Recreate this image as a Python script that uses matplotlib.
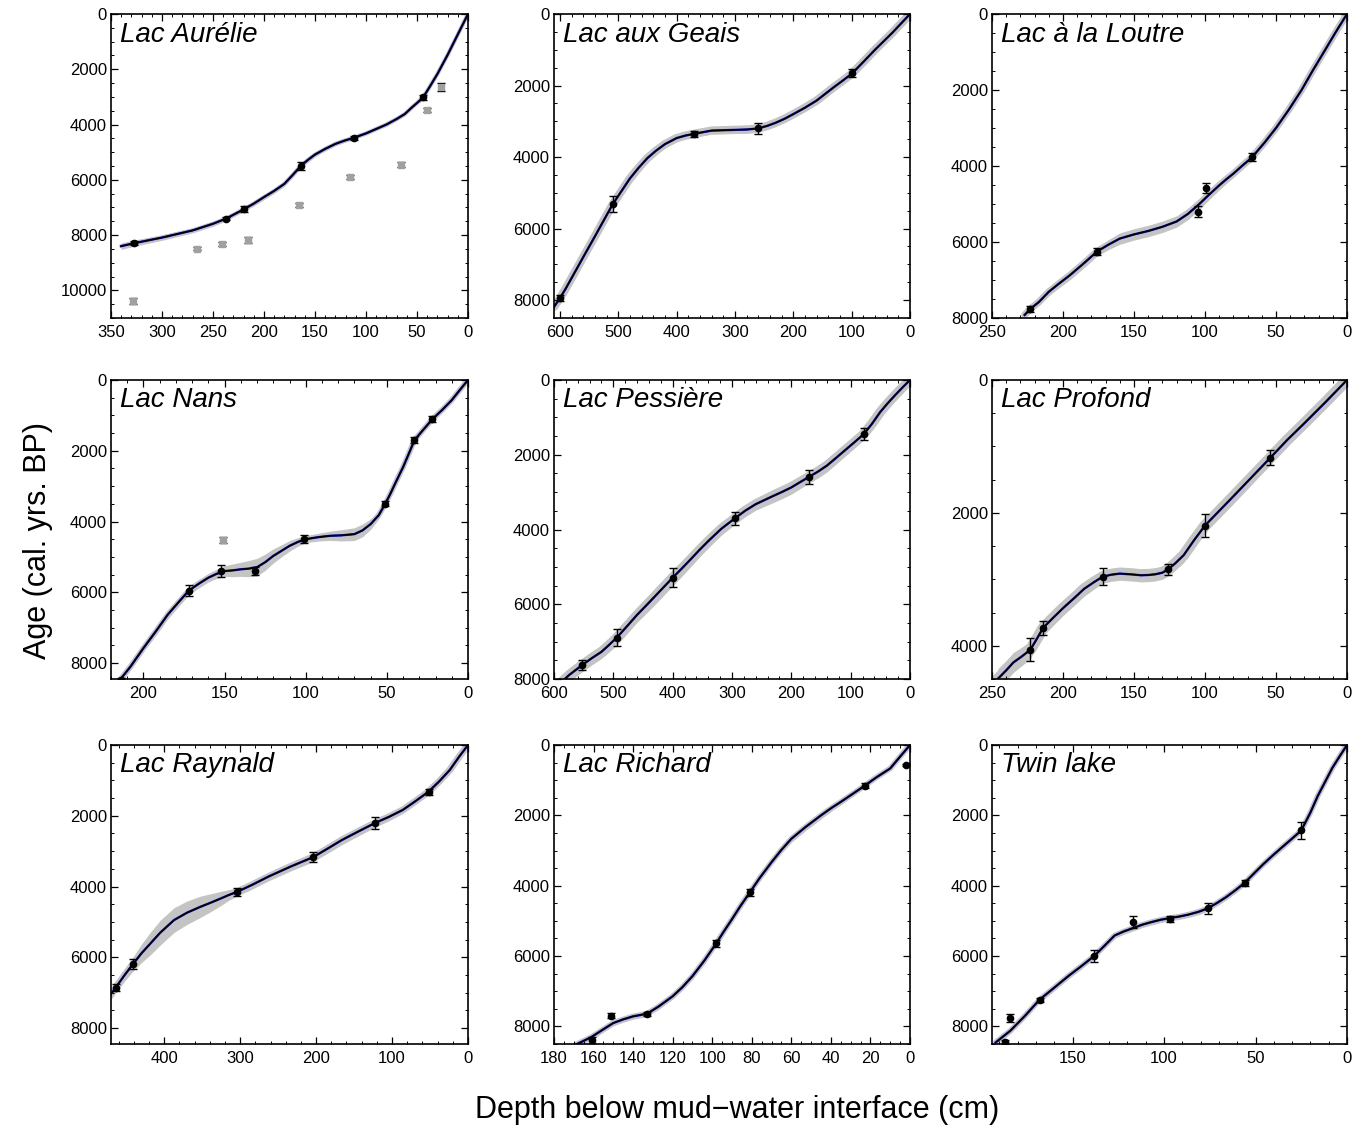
import matplotlib
matplotlib.use("Agg")
import matplotlib.pyplot as plt
from matplotlib.ticker import MultipleLocator

plt.rcParams["font.family"] = ["Liberation Sans", "DejaVu Sans"]

# ---- Lac Aurélie
aurelie_curve_depth = [340, 327, 300, 270, 250, 237, 220, 210, 200, 190, 180, 172, 164, 157, 150, 140,
                       130, 121, 112, 100, 90, 80, 70, 62, 55, 50, 44, 37, 30, 20, 10, 0]
aurelie_curve_age = [8400, 8290, 8090, 7830, 7590, 7400, 7070, 6860, 6625, 6400, 6145, 5830, 5500, 5280, 5086, 4880,
                     4700, 4580, 4480, 4320, 4160, 4000, 3800, 3620, 3380, 3220, 3020, 2600, 2170, 1480, 740, 0]
aurelie_band = [120, 110, 100, 90, 90, 80, 80, 85, 90, 90, 90, 90, 90, 85, 80, 75,
                70, 65, 60, 60, 60, 60, 60, 60, 60, 60, 60, 55, 50, 40, 20, 0]
aurelie_depth = [327, 237, 220, 164, 112, 44]
aurelie_age = [8290, 7400, 7070, 5500, 4480, 3020]
aurelie_err = [80, 60, 110, 140, 80, 90]
aurelie_out_depth = [328, 266, 241, 216, 166, 116, 66, 40, 26]
aurelie_out_age = [10400, 8490, 8330, 8190, 6910, 5890, 5460, 3470, 2630]
aurelie_out_err = [110, 50, 70, 110, 60, 70, 90, 60, 140]

# ---- Lac aux Geais
geais_curve_depth = [610, 600, 590, 560, 540, 520, 509, 480, 465, 450, 435, 420, 400, 385, 370, 340, 320, 300,
                     280, 261, 245, 230, 215, 200, 180, 160, 145, 130, 115, 99, 80, 60, 45, 30, 15, 0]
geais_curve_age = [8190, 7950, 7680, 6800, 6220, 5630, 5310, 4600, 4300, 4030, 3820, 3640, 3470, 3400, 3350, 3260, 3250, 3240,
                   3230, 3200, 3130, 3040, 2930, 2800, 2620, 2420, 2230, 2040, 1860, 1660, 1340, 1000, 760, 520, 260, 0]
geais_band = [100, 100, 100, 120, 140, 150, 150, 150, 140, 120, 110, 100, 100, 90, 90, 90, 95, 100,
              105, 110, 105, 100, 100, 100, 100, 100, 95, 90, 85, 80, 70, 60, 50, 40, 25, 0]
geais_depth = [600, 509, 370, 261, 99]
geais_age = [7950, 5310, 3350, 3200, 1660]
geais_err = [80, 220, 90, 160, 110]

# ---- Lac à la Loutre
loutre_curve_depth = [227, 223, 217, 210, 203, 195, 185, 176, 168, 160, 150, 140, 130, 120, 112,
                      104, 97, 90, 85, 80, 74, 67, 58, 50, 41, 32, 24, 15, 8, 0]
loutre_curve_age = [7920, 7760, 7580, 7310, 7100, 6870, 6550, 6250, 6070, 5910, 5800, 5710, 5600, 5460, 5260,
                    5000, 4750, 4510, 4350, 4200, 4000, 3777, 3380, 3000, 2520, 2000, 1480, 920, 480, 0]
loutre_band = [80, 80, 90, 100, 110, 120, 120, 120, 130, 150, 150, 150, 150, 150, 150,
               150, 130, 120, 110, 100, 95, 90, 90, 90, 85, 80, 70, 60, 40, 0]
loutre_depth = [223, 176, 105, 99, 67]
loutre_age = [7760, 6250, 5200, 4580, 3770]
loutre_err = [80, 100, 140, 130, 110]

# ---- Lac Nans
nans_curve_depth = [217, 208, 200, 192, 185, 178, 172, 166, 160, 155, 150, 145, 140, 135, 130, 125, 120, 115, 110, 105,
                    100, 92, 85, 78, 70, 65, 60, 55, 51, 48, 45, 42, 40, 36, 33, 28, 22, 16, 10, 5, 0]
nans_curve_age = [8620, 8100, 7576, 7080, 6629, 6260, 5950, 5760, 5587, 5480, 5400, 5380, 5350, 5330, 5290, 5150, 4972, 4830, 4688, 4580,
                  4498, 4440, 4403, 4390, 4356, 4250, 4072, 3820, 3500, 3230, 2936, 2650, 2462, 2030, 1700, 1430, 1110, 850, 568, 280, 0]
nans_band = [100, 100, 100, 110, 120, 120, 120, 120, 120, 130, 150, 180, 200, 230, 250, 230, 200, 170, 150, 120,
             100, 110, 130, 160, 180, 180, 150, 100, 80, 80, 80, 75, 70, 65, 60, 60, 60, 50, 40, 20, 0]
nans_depth = [214, 172, 152, 131, 101, 51, 33, 22]
nans_age = [8470, 5950, 5400, 5400, 4500, 3500, 1700, 1110]
nans_err = [60, 150, 160, 120, 110, 70, 80, 80]
nans_out_depth = [151]
nans_out_age = [4530]
nans_out_err = [80]

# ---- Lac Pessière
pessiere_curve_depth = [595, 575, 552, 537, 520, 508, 494, 477, 460, 445, 430, 415, 400, 385, 370, 355, 340, 318, 295, 278,
                        260, 245, 230, 215, 200, 186, 171, 155, 140, 125, 110, 94, 78, 64, 50, 38, 25, 12, 0]
pessiere_curve_age = [8200, 7900, 7620, 7450, 7273, 7100, 6890, 6590, 6284, 6040, 5791, 5540, 5290, 5050, 4803, 4550, 4310, 3980, 3700, 3500,
                      3322, 3210, 3098, 2990, 2874, 2740, 2600, 2450, 2290, 2090, 1886, 1670, 1450, 1170, 853, 630, 404, 190, 0]
pessiere_band = [200, 190, 180, 180, 180, 190, 200, 200, 200, 210, 220, 220, 220, 210, 200, 190, 180, 170, 160, 160,
                 160, 170, 180, 180, 180, 175, 170, 170, 170, 165, 160, 155, 150, 135, 120, 100, 80, 50, 0]
pessiere_depth = [552, 494, 400, 295, 171, 78]
pessiere_age = [7620, 6890, 5290, 3700, 2600, 1450]
pessiere_err = [130, 230, 260, 170, 190, 160]

# ---- Lac Profond
profond_curve_depth = [246, 240, 235, 229, 223, 218, 214, 207, 200, 192, 185, 178, 172, 166, 160, 152, 145,
                       140, 135, 130, 126, 121, 115, 108, 100, 90, 80, 67, 54, 42, 30, 15, 0]
profond_curve_age = [4500, 4370, 4252, 4160, 4060, 3880, 3730, 3580, 3434, 3280, 3141, 3040, 2960, 2930, 2914, 2925, 2939,
                     2935, 2924, 2900, 2850, 2760, 2636, 2420, 2190, 1970, 1750, 1460, 1170, 900, 650, 330, 0]
profond_band = [150, 150, 150, 140, 130, 125, 120, 115, 110, 110, 110, 105, 100, 100, 100, 100, 100,
                100, 100, 100, 100, 105, 110, 110, 110, 110, 110, 105, 100, 90, 80, 50, 0]
profond_depth = [223, 214, 172, 126, 100, 54]
profond_age = [4060, 3730, 2960, 2850, 2190, 1170]
profond_err = [170, 110, 130, 80, 170, 110]

# ---- Lac Raynald
raynald_curve_depth = [471, 464, 452, 441, 430, 418, 405, 387, 370, 352, 338, 325, 315, 304, 284,
                       263, 234, 204, 185, 166, 144, 122, 104, 86, 70, 52, 38, 24, 12, 0]
raynald_curve_age = [7070, 6860, 6500, 6190, 5890, 5607, 5300, 4947, 4740, 4570, 4450, 4333, 4240, 4150, 3950,
                     3722, 3440, 3170, 2930, 2685, 2440, 2200, 2030, 1837, 1600, 1320, 1030, 707, 340, 0]
raynald_band = [150, 150, 170, 200, 260, 320, 350, 350, 330, 300, 250, 200, 150, 120, 120,
                120, 125, 130, 130, 130, 125, 120, 110, 100, 90, 80, 70, 60, 40, 0]
raynald_depth = [464, 441, 304, 204, 122, 52]
raynald_age = [6860, 6190, 4150, 3170, 2200, 1320]
raynald_err = [100, 130, 120, 150, 160, 80]

# ---- Lac Richard
richard_curve_depth = [169, 161, 155, 150, 145, 140, 133, 127, 120, 115, 110, 104, 98, 94, 90, 86,
                       81, 76, 70, 65, 60, 53, 45, 40, 35, 29, 23, 17, 10, 5, 0]
richard_curve_age = [8520, 8300, 8080, 7903, 7800, 7714, 7640, 7430, 7143, 6880, 6571, 6130, 5640, 5290, 4951, 4600,
                     4190, 3780, 3331, 2980, 2666, 2340, 2000, 1800, 1618, 1390, 1160, 920, 666, 330, 0]
richard_band = [80, 80, 80, 80, 80, 80, 80, 80, 80, 80, 80, 80, 80, 80, 80, 80,
                80, 80, 80, 90, 100, 100, 100, 90, 80, 70, 60, 50, 40, 20, 0]
richard_depth = [161, 151, 133, 98, 81, 23, 2]
richard_age = [8380, 7690, 7640, 5640, 4190, 1160, 570]
richard_err = [90, 60, 50, 100, 110, 70, 40]

# ---- Twin lake
twin_curve_depth = [192, 184, 176, 168, 160, 152, 145, 138, 132, 127, 122, 117, 112, 107, 102, 97, 92, 87,
                    81, 76, 71, 66, 61, 56, 51, 46, 41, 36, 30, 25, 20, 16, 12, 8, 4, 0]
twin_curve_age = [8456, 8124, 7700, 7240, 6900, 6557, 6280, 5990, 5680, 5416, 5300, 5207, 5110, 5036, 4970, 4920, 4880, 4826,
                  4740, 4640, 4490, 4322, 4130, 3920, 3660, 3400, 3160, 2930, 2660, 2430, 1920, 1450, 1050, 650, 320, 0]
twin_band = [80, 80, 80, 80, 80, 80, 80, 80, 80, 80, 80, 80, 80, 80, 80, 80, 80, 80,
             80, 80, 80, 80, 80, 80, 80, 80, 80, 80, 80, 80, 70, 60, 50, 40, 20, 0]
twin_depth = [187, 184, 168, 138, 117, 97, 76, 56, 25]
twin_age = [8440, 7760, 7240, 5990, 5030, 4940, 4640, 3920, 2430]
twin_err = [50, 110, 60, 170, 160, 90, 160, 90, 230]

names = ["Lac Aurélie", "Lac aux Geais", "Lac à la Loutre",
         "Lac Nans", "Lac Pessière", "Lac Profond",
         "Lac Raynald", "Lac Richard", "Twin lake"]
curves = [(aurelie_curve_depth, aurelie_curve_age, aurelie_band),
          (geais_curve_depth, geais_curve_age, geais_band),
          (loutre_curve_depth, loutre_curve_age, loutre_band),
          (nans_curve_depth, nans_curve_age, nans_band),
          (pessiere_curve_depth, pessiere_curve_age, pessiere_band),
          (profond_curve_depth, profond_curve_age, profond_band),
          (raynald_curve_depth, raynald_curve_age, raynald_band),
          (richard_curve_depth, richard_curve_age, richard_band),
          (twin_curve_depth, twin_curve_age, twin_band)]
dates = [(aurelie_depth, aurelie_age, aurelie_err),
         (geais_depth, geais_age, geais_err),
         (loutre_depth, loutre_age, loutre_err),
         (nans_depth, nans_age, nans_err),
         (pessiere_depth, pessiere_age, pessiere_err),
         (profond_depth, profond_age, profond_err),
         (raynald_depth, raynald_age, raynald_err),
         (richard_depth, richard_age, richard_err),
         (twin_depth, twin_age, twin_err)]
outliers = {0: (aurelie_out_depth, aurelie_out_age, aurelie_out_err),
            3: (nans_out_depth, nans_out_age, nans_out_err)}

xmax = [350, 610, 250, 220, 600, 250, 470, 180, 194]
ymax = [11000, 8500, 8000, 8450, 8000, 4500, 8450, 8500, 8500]
xmajor = [50, 100, 50, 50, 100, 50, 100, 20, 50]
xminor = [10, 20, 10, 10, 20, 10, 20, 5, 10]
band_lw = [3, 6, 5, 4, 7, 8, 5, 4, 4]

# panel boxes in pixels (left, top, width, height)
col_left = [111, 554, 992]
col_w = [357, 356, 355]
row_top = [14, 380, 745]
row_h = [304, 299, 299]

W, H = 1366, 1132
fig = plt.figure(figsize=(W / 100, H / 100), dpi=100)

for i in range(9):
    r, c = divmod(i, 3)
    ax = fig.add_axes([col_left[c] / W, 1 - (row_top[r] + row_h[r]) / H,
                       col_w[c] / W, row_h[r] / H])
    d, a, b = curves[i]
    lo = [ai - bi for ai, bi in zip(a, b)]
    hi = [ai + bi for ai, bi in zip(a, b)]
    ax.fill_between(d, lo, hi, color="#c4c4c4", lw=0, zorder=1)
    ax.plot(d, a, color="#c4c4c4", lw=band_lw[i], solid_capstyle="round",
            solid_joinstyle="round", zorder=1)
    ax.plot(d, a, color="#1a1acc", lw=1.7, solid_joinstyle="round", zorder=2)
    ax.plot(d, a, color="black", lw=1.2, solid_joinstyle="round", zorder=3)
    if i in outliers:
        od, oa, oe = outliers[i]
        ax.errorbar(od, oa, yerr=oe, fmt="s", ms=4.5, mfc="#a0a0a0", mec="#a0a0a0",
                    ecolor="black", elinewidth=1, capsize=3, capthick=1, zorder=4)
    pd_, pa, pe = dates[i]
    ax.errorbar(pd_, pa, yerr=pe, fmt="o", ms=4.5, color="black",
                elinewidth=1, capsize=3, capthick=1, zorder=5)

    ax.set_xlim(xmax[i], 0)
    ax.set_ylim(ymax[i], 0)
    ax.xaxis.set_major_locator(MultipleLocator(xmajor[i]))
    ax.xaxis.set_minor_locator(MultipleLocator(xminor[i]))
    ax.yaxis.set_major_locator(MultipleLocator(2000))
    ax.yaxis.set_minor_locator(MultipleLocator(500))
    ax.tick_params(which="both", direction="in", top=True, right=True, labelsize=12)
    ax.tick_params(which="major", length=5, width=0.9, pad=3)
    ax.tick_params(axis="x", which="major", pad=5)
    ax.tick_params(which="minor", length=2.5, width=0.7)
    for s in ax.spines.values():
        s.set_linewidth(1.2)
    ax.text(0.025, 0.975, names[i], transform=ax.transAxes, ha="left", va="top",
            fontsize=20, style="italic")

fig.text(38 / W, 1 - 540 / H, "Age (cal. yrs. BP)", rotation=90, ha="center",
         va="center", fontsize=22)
fig.text(737 / W, 1 - 1110 / H, "Depth below mud\u2212water interface (cm)",
         ha="center", va="center", fontsize=22)

fig.savefig("out.png", dpi=100)
